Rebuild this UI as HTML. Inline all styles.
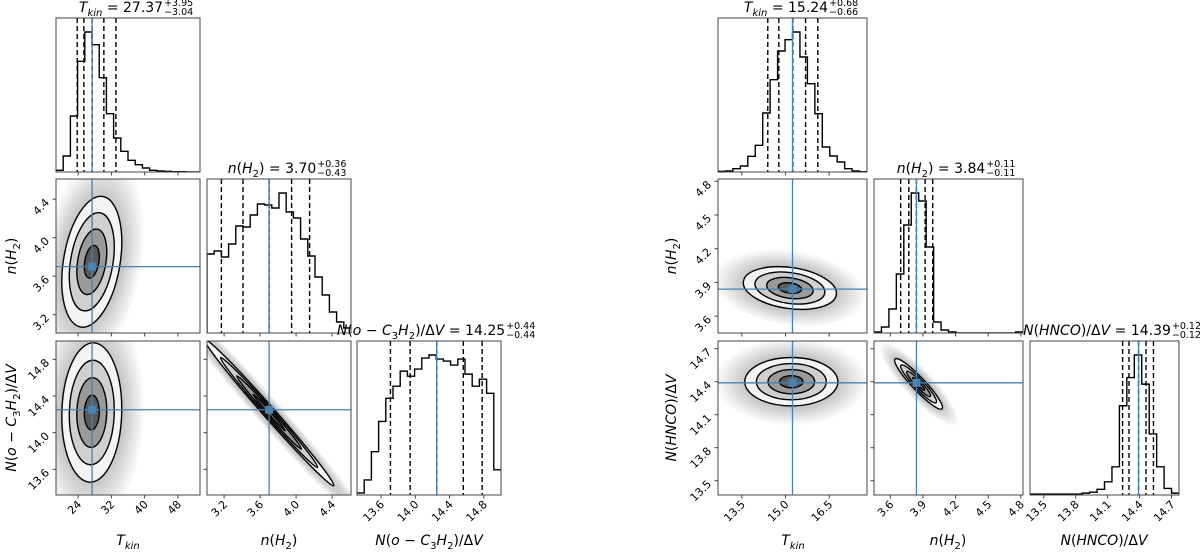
<!DOCTYPE html>
<html><head><meta charset="utf-8">
<style>
html,body{margin:0;padding:0;background:#fff;}
#wrap{position:relative;width:1200px;height:553px;overflow:hidden;font-family:"DejaVu Sans","Liberation Sans",sans-serif;color:#000;}
svg{position:absolute;left:0;top:0;}
.ttl{position:absolute;transform:translateX(-50%);font-size:14px;white-space:nowrap;line-height:18px;height:18px;}
.ss{display:inline-block;position:relative;width:30px;height:18px;vertical-align:top;font-size:9.5px;line-height:9px;}
.ss span{position:absolute;left:1px;}
.ss span.p{top:0px;}
.ss span.m{top:9px;}
.axl{position:absolute;font-size:14px;white-space:nowrap;transform:translate(-50%,-50%);}
.axl.v{transform:translate(-50%,-50%) rotate(-90deg);}
sub{font-size:10px;line-height:0;}
</style></head>
<body>
<div id="wrap">
<svg id="plot" width="1200" height="553"></svg>

<div class="ttl" style="left:136px;top:-1px"><i>T<sub>kin</sub></i> = 27.37<span class="ss"><span class="p">+3.95</span><span class="m">−3.04</span></span></div>
<div class="ttl" style="left:287px;top:160px"><i>n</i>(<i>H</i><sub>2</sub>) = 3.70<span class="ss"><span class="p">+0.36</span><span class="m">−0.43</span></span></div>
<div class="ttl" style="left:436px;top:322px"><i>N</i>(<i>o</i> − <i>C</i><sub>3</sub><i>H</i><sub>2</sub>)/Δ<i>V</i> = 14.25<span class="ss"><span class="p">+0.44</span><span class="m">−0.44</span></span></div>
<div class="ttl" style="left:801px;top:-1px"><i>T<sub>kin</sub></i> = 15.24<span class="ss"><span class="p">+0.68</span><span class="m">−0.66</span></span></div>
<div class="ttl" style="left:956px;top:160px"><i>n</i>(<i>H</i><sub>2</sub>) = 3.84<span class="ss"><span class="p">+0.11</span><span class="m">−0.11</span></span></div>
<div class="ttl" style="left:1112px;top:322px"><i>N</i>(<i>HNCO</i>)/Δ<i>V</i> = 14.39<span class="ss"><span class="p">+0.12</span><span class="m">−0.12</span></span></div>

<div class="axl" style="left:128px;top:541px"><i>T<sub>kin</sub></i></div>
<div class="axl" style="left:279px;top:541px"><i>n</i>(<i>H</i><sub>2</sub>)</div>
<div class="axl" style="left:429px;top:541px"><i>N</i>(<i>o</i> − <i>C</i><sub>3</sub><i>H</i><sub>2</sub>)/Δ<i>V</i></div>
<div class="axl v" style="left:12px;top:256px"><i>n</i>(<i>H</i><sub>2</sub>)</div>
<div class="axl v" style="left:12px;top:418px"><i>N</i>(<i>o</i> − <i>C</i><sub>3</sub><i>H</i><sub>2</sub>)/Δ<i>V</i></div>
<div class="axl" style="left:793px;top:541px"><i>T<sub>kin</sub></i></div>
<div class="axl" style="left:948px;top:541px"><i>n</i>(<i>H</i><sub>2</sub>)</div>
<div class="axl" style="left:1104px;top:541px"><i>N</i>(<i>HNCO</i>)/Δ<i>V</i></div>
<div class="axl v" style="left:672px;top:256px"><i>n</i>(<i>H</i><sub>2</sub>)</div>
<div class="axl v" style="left:672px;top:418px"><i>N</i>(<i>HNCO</i>)/Δ<i>V</i></div>
</div>

<script>
// ---------- data: left corner (o-C3H2) ----------
const leftRanges = [[18.7, 53.3], [3.01, 4.61], [13.32, 15.0]];
const leftTicks = [[24, 32, 40, 48], [3.2, 3.6, 4.0, 4.4], [13.6, 14.0, 14.4, 14.8]];
const leftTickLabels = [["24", "32", "40", "48"], ["3.2", "3.6", "4.0", "4.4"], ["13.6", "14.0", "14.4", "14.8"]];
const leftHistTkin = [5, 48, 168, 332, 420, 382, 283, 175, 102, 62, 35, 22, 12, 5, 3, 2, 1, 1, 0, 0];
const leftHistNH2 = [79, 82, 76, 89, 107, 106, 118, 129, 128, 125, 140, 121, 115, 94, 77, 56, 38, 21, 11, 5];
const leftHistN = [2, 15, 43, 73, 96, 108, 123, 118, 125, 136, 139, 135, 133, 129, 135, 120, 108, 115, 101, 25];
const leftQuantTkin = [23.8, 25.4, 27.37, 30.2, 33.1];
const leftQuantNH2 = [3.17, 3.41, 3.70, 3.95, 4.15];
const leftQuantN = [13.71, 13.94, 14.25, 14.56, 14.78];
const leftTruth = [27.37, 3.70, 14.25];
// 2D densities: [xParam, yParam, centerX, centerY, sigmaX, sigmaY, rho]
const leftPairs = [[0, 1, 27.3, 3.75, 3.6, 0.34, 0.3], [0, 2, 27.3, 14.22, 3.6, 0.38, 0.05], [1, 2, 3.70, 14.22, 0.36, 0.40, -0.993]];

// ---------- data: right corner (HNCO) ----------
const rightRanges = [[12.68, 17.8], [3.45, 4.82], [13.37, 14.77]];
const rightTicks = [[13.5, 15.0, 16.5], [3.6, 3.9, 4.2, 4.5, 4.8], [13.5, 13.8, 14.1, 14.4, 14.7]];
const rightTickLabels = [["13.5", "15.0", "16.5"], ["3.6", "3.9", "4.2", "4.5", "4.8"], ["13.5", "13.8", "14.1", "14.4", "14.7"]];
const rightHistTkin = [2, 3, 10, 18, 47, 80, 177, 277, 363, 397, 420, 345, 265, 175, 75, 48, 30, 10, 3, 1];
const rightHistNH2 = [1, 6, 24, 59, 108, 140, 132, 86, 11, 3, 1, 0, 0, 0, 0, 0, 0, 0, 0, 1];
const rightHistN = [1, 1, 1, 1, 1, 1, 1, 2, 3, 6, 14, 30, 95, 125, 149, 118, 65, 30, 7, 2];
const rightQuantTkin = [14.39, 14.77, 15.25, 15.69, 16.11];
const rightQuantNH2 = [3.695, 3.77, 3.84, 3.92, 3.99];
const rightQuantN = [14.24, 14.30, 14.39, 14.46, 14.53];
const rightTruth = [15.24, 3.84, 14.39];
const rightPairs = [[0, 1, 15.15, 3.85, 0.8, 0.095, -0.25], [0, 2, 15.2, 14.40, 0.8, 0.11, 0.0], [1, 2, 3.86, 14.38, 0.11, 0.115, -0.93]];

// ---------- drawing ----------
const NS = "http://www.w3.org/2000/svg";
const svg = document.getElementById("plot");
const BLUE = "#4682b4";
const rowsY = [18, 179, 341], H = 154;
function mk(tag, attrs, parent) {
  const e = document.createElementNS(NS, tag);
  for (const k in attrs) e.setAttribute(k, attrs[k]);
  (parent || svg).appendChild(e);
  return e;
}
const defs = mk("defs", {});
const grad = mk("radialGradient", {id: "cloud"}, defs);
mk("stop", {offset: "0", "stop-color": "#000", "stop-opacity": "0.5"}, grad);
mk("stop", {offset: "0.6", "stop-color": "#000", "stop-opacity": "0.22"}, grad);
mk("stop", {offset: "1", "stop-color": "#000", "stop-opacity": "0"}, grad);

function corner(side, colsX, W, ranges, ticks, tickLabels, hists, quants, truth, pairs) {
  const g = mk("g", {});
  
  
  const xs = (c, v) => colsX[c] + (v - ranges[c][0]) / (ranges[c][1] - ranges[c][0]) * W;
  const ys = (r, v) => rowsY[r] + H - (v - ranges[r][0]) / (ranges[r][1] - ranges[r][0]) * H;
  for (let r = 0; r < 3; r++) for (let c = 0; c <= r; c++) {
    const cp = mk("clipPath", {id: side + "clip" + r + c}, defs);
    mk("rect", {x: colsX[c], y: rowsY[r], width: W, height: H}, cp);
  }
  for (let i = 0; i < 3; i++) {
    const pg = mk("g", {"clip-path": "url(#" + side + "clip" + i + i + ")"}, g);
    
    
    const counts = hists[i];
    const n = counts.length, mx = Math.max(...counts) * 1.1;
    const bw = (ranges[i][1] - ranges[i][0]) / n;
    const bottom = rowsY[i] + H;
    const hy = v => bottom - v / mx * H;
    let d = "M" + xs(i, ranges[i][0]) + "," + bottom;
    counts.forEach((v, k) => {
      d += " L" + xs(i, ranges[i][0] + k * bw) + "," + hy(v) + " L" + xs(i, ranges[i][0] + (k + 1) * bw) + "," + hy(v);
    });
    const hp = mk("path", {d: d, fill: "none", stroke: "#000", "stroke-width": 1.4}, pg);
    
    
    quants[i].forEach(q => {
      const ql = mk("line", {x1: xs(i, q), x2: xs(i, q), y1: rowsY[i], y2: bottom, stroke: "#000", "stroke-width": 1.4, "stroke-dasharray": "5,3"}, pg);
      
      
    });
    const tl = mk("line", {x1: xs(i, truth[i]), x2: xs(i, truth[i]), y1: rowsY[i], y2: bottom, stroke: BLUE, "stroke-width": 1.3}, pg);
    
    
  }
  pairs.forEach(p => {
    const [c, r, cx, cy, sx, sy, rho] = p;
    const pg = mk("g", {"clip-path": "url(#" + side + "clip" + r + c + ")"}, g);
    
    
    const kx = W / (ranges[c][1] - ranges[c][0]), ky = H / (ranges[r][1] - ranges[r][0]);
    const a = (sx * kx) ** 2, dd = (sy * ky) ** 2, b = -rho * sx * kx * sy * ky;
    const th = 0.5 * Math.atan2(2 * b, a - dd) * 180 / Math.PI;
    const m = (a + dd) / 2, s = Math.sqrt(((a - dd) / 2) ** 2 + b * b);
    const l1 = Math.sqrt(m + s), l2 = Math.sqrt(Math.max(m - s, 1.5));
    const px = xs(c, cx), py = ys(r, cy);
    const tf = "rotate(" + th + " " + px + " " + py + ")";
    const cl = mk("ellipse", {cx: px, cy: py, rx: 3.3 * l1, ry: 3.3 * l2 + 4, transform: tf, fill: "url(#cloud)"}, pg);
    
    
    const fills = ["#f4f4f4", "#d0d0d0", "#9a9a9a", "#5a5a5a"];
    [2, 1.5, 1, 0.5].forEach((k, idx) => {
      const e = mk("ellipse", {cx: px, cy: py, rx: k * l1, ry: k * l2, transform: tf, fill: fills[idx], stroke: "#000", "stroke-width": 1.4}, pg);
      
      
    });
    const vx = xs(c, truth[c]), hy = ys(r, truth[r]);
    const v = mk("line", {x1: vx, x2: vx, y1: rowsY[r], y2: rowsY[r] + H, stroke: BLUE, "stroke-width": 1.3}, pg);
    
    
    const h = mk("line", {x1: colsX[c], x2: colsX[c] + W, y1: hy, y2: hy, stroke: BLUE, "stroke-width": 1.3}, pg);
    
    
    const mkr = mk("rect", {x: vx - 4, y: hy - 4, width: 8, height: 8, fill: BLUE}, pg);
    
    
  });
  for (let r = 0; r < 3; r++) for (let c = 0; c <= r; c++) {
    const fr = mk("rect", {x: colsX[c], y: rowsY[r], width: W, height: H, fill: "none", stroke: "#444", "stroke-width": 1}, g);
    
    
    const bottom = rowsY[r] + H;
    ticks[c].forEach((t, k) => {
      const x = xs(c, t);
      mk("line", {x1: x, x2: x, y1: bottom, y2: bottom + 3.5, stroke: "#444", "stroke-width": 1}, g);
      if (r === 2) {
        const tx = mk("text", {x: x + 4, y: bottom + 10, "font-size": 11, "text-anchor": "end", transform: "rotate(-45 " + (x + 4) + " " + (bottom + 10) + ")"}, g);
        tx.textContent = tickLabels[c][k];
        
        
      }
    });
    if (r > c) {
      ticks[r].forEach((t, k) => {
        const y = ys(r, t);
        if (y < rowsY[r] - 0.5 || y > bottom + 0.5) return;
        mk("line", {x1: colsX[c] - 3.5, x2: colsX[c], y1: y, y2: y, stroke: "#444", "stroke-width": 1}, g);
        if (c === 0) {
          const ax = colsX[0] - 6, ay = y + 4;
          const tx = mk("text", {x: ax, y: ay, "font-size": 11, "text-anchor": "end", transform: "rotate(-45 " + ax + " " + ay + ")"}, g);
          tx.textContent = tickLabels[r][k];
          
          
        }
      });
    }
  }
}

corner("left", [56, 207, 357], 144, leftRanges, leftTicks, leftTickLabels,
  [leftHistTkin, leftHistNH2, leftHistN], [leftQuantTkin, leftQuantNH2, leftQuantN], leftTruth, leftPairs);
corner("right", [718, 874, 1030], 149, rightRanges, rightTicks, rightTickLabels,
  [rightHistTkin, rightHistNH2, rightHistN], [rightQuantTkin, rightQuantNH2, rightQuantN], rightTruth, rightPairs);
</script>
</body></html>
